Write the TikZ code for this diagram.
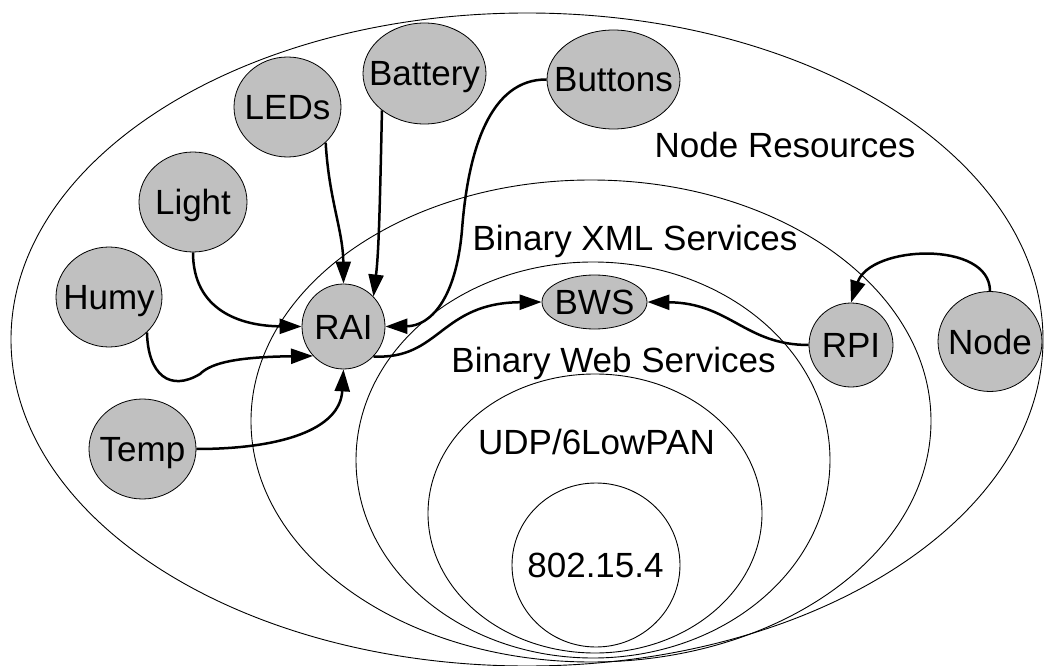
\documentclass[tikz,border=0pt]{standalone}
\usepackage{fontspec}
\setmainfont{Liberation Sans}
\usetikzlibrary{shapes.geometric,arrows.meta}
\definecolor{nodegray}{RGB}{192,192,192}
\newcommand\zlbl[1]{\makebox[0pt]{#1}}
\begin{document}
\begin{tikzpicture}[x=1pt,y=-1pt,
  font=\fontsize{35}{41}\selectfont,
  ring/.style={draw=black, line width=0.9pt},
  res/.style={ellipse, draw=black, line width=0.8pt, fill=nodegray, inner sep=0pt,
    text height=25pt, text depth=0pt},
  conn/.style={draw=black, line width=2.5pt, -{Triangle[length=22pt,width=15pt]}},
  caption/.style={anchor=base, inner sep=0pt}]
\useasboundingbox (0,0) rectangle (1045,666);
\fill[white] (0,0) rectangle (1045,666);
% layers
\draw[ring] (527,339.5) ellipse [x radius=516, y radius=326.5];
\draw[ring] (591,421) ellipse [x radius=340, y radius=241];
\draw[ring] (593,460) ellipse [x radius=237, y radius=198];
\draw[ring] (595,513.5) ellipse [x radius=167, y radius=139.5];
\draw[ring] (596,565) ellipse [x radius=84, y radius=82];
% captions
\node[caption] (tNR) at (785,158) {Node Resources};
\node[caption] (tXML) at (635,250) {Binary XML Services};
\node[caption] (tBWS) at (613.5,372) {Binary Web Services};
\node[caption] (tUDP) at (596.5,454) {UDP/6LowPAN};
\node[caption] (t802) at (595.5,577) {802.15.4};
% resource nodes
\node[res, minimum width=107pt, minimum height=100pt] (LEDs) at (287.5,107) {\zlbl{LEDs}};
\node[res, minimum width=123pt, minimum height=101pt] (Battery) at (424.5,73.5) {\zlbl{Battery}};
\node[res, minimum width=133pt, minimum height=99pt] (Buttons) at (613.5,79.5) {\zlbl{Buttons}};
\node[res, minimum width=108pt, minimum height=100pt] (Light) at (193,202) {\zlbl{Light}};
\node[res, minimum width=106pt, minimum height=100pt] (Humy) at (109,297) {\zlbl{Humy}};
\node[res, minimum width=107pt, minimum height=100pt] (Temp) at (142.5,449) {\zlbl{Temp}};
\node[res, minimum width=83pt, minimum height=85pt] (RAI) at (343.5,326.5) {\zlbl{RAI}};
\node[res, minimum width=105pt, minimum height=54pt] (BWS) at (594.5,302) {\zlbl{BWS}};
\node[res, minimum width=84pt, minimum height=84pt] (RPI) at (851,345) {\zlbl{RPI}};
\node[res, minimum width=104pt, minimum height=100pt] (Node) at (990,341.5) {\zlbl{Node}};
% connectors
\draw[conn] (LEDs.-43) .. controls (329,200) and (343,230) .. (RAI.north);
\draw[conn] (Battery.-139) .. controls (380,200) and (379,250) .. (RAI.45);
\draw[conn] (Buttons.west) .. controls (490,79) and (468,150) .. (462,230)
  .. controls (456,300) and (430,326) .. (RAI.east);
\draw[conn] (Light.south) .. controls (193,310) and (240,326) .. (RAI.west);
\draw[conn] (Humy.-43) .. controls (148,375) and (170,392) .. (200,374)
  .. controls (212,362) and (240,357) .. (RAI.-136);
\draw[conn] (Temp.east) .. controls (280,449) and (340,430) .. (RAI.south);
\draw[conn] (RAI.-45) .. controls (440,360) and (440,303) .. (BWS.west);
\draw[conn] (RPI.west) .. controls (745,345) and (730,303) .. (BWS.east);
\draw[conn] (Node.north) .. controls (990,240) and (870,245) .. (RPI.north);
\end{tikzpicture}
\end{document}
